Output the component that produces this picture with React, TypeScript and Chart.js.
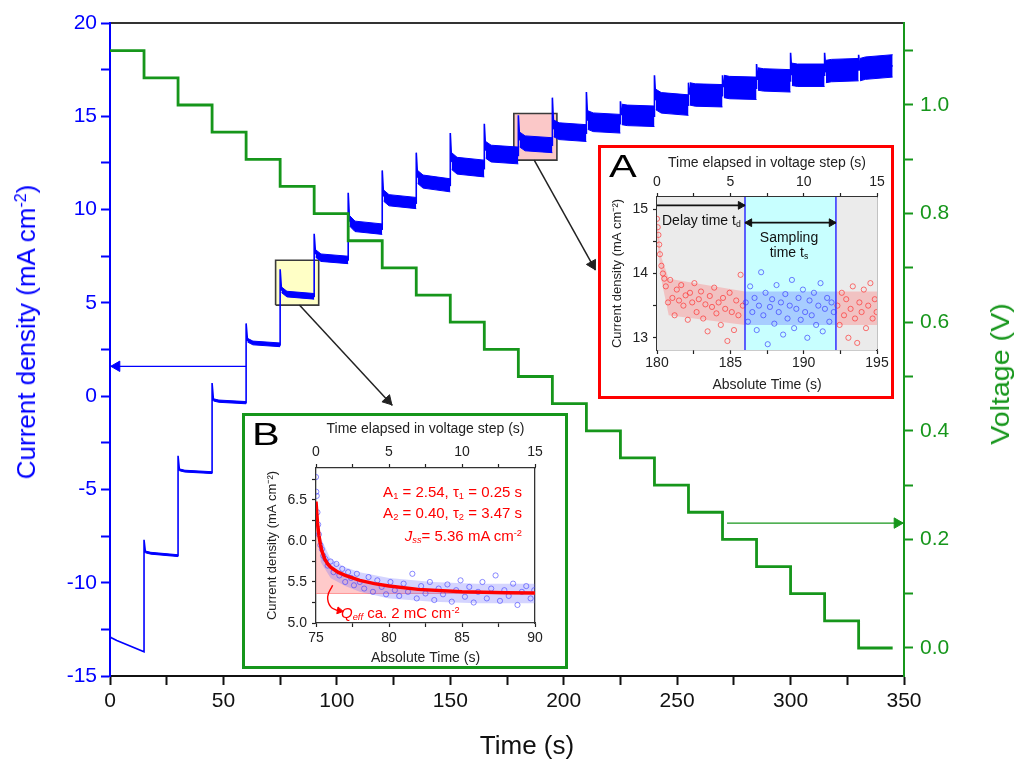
import React, { useEffect, useRef } from "react";
import { Chart, registerables } from "chart.js";

Chart.register(...registerables);

const FONT = "'Liberation Sans', Arial, Helvetica, sans-serif";
const BLUE = "#0000ff";
const GREEN = "#16961b";
const RED = "#ff0000";
const DARK = "#222222";

// ---------------- main chart data ----------------
const timeAxisRange = [0, 350];
const currentAxisRange = [-15, 20];
const voltageAxisRange = [-0.0516, 1.151];
const timeTicks = [0, 25, 50, 75, 100, 125, 150, 175, 200, 225, 250, 275, 300, 325, 350];
const timeLabels = [0, 50, 100, 150, 200, 250, 300, 350];
const currentTicks = [-15, -12.5, -10, -7.5, -5, -2.5, 0, 2.5, 5, 7.5, 10, 12.5, 15, 17.5, 20];
const currentLabels = [-15, -10, -5, 0, 5, 10, 15, 20];
const voltageTicks = [0, 0.1, 0.2, 0.3, 0.4, 0.5, 0.6, 0.7, 0.8, 0.9, 1.0, 1.1];
const voltageLabels = [0, 0.2, 0.4, 0.6, 0.8, 1.0];

const stepTimes = [0, 15, 30, 45, 60, 75, 90, 105, 120, 135, 150, 165, 180, 195, 210, 225, 240, 255, 270, 285, 300, 315, 330];
const runEndTime = 345;
const voltageLevels = [1.1, 1.05, 1.0, 0.95, 0.9, 0.85, 0.8, 0.75, 0.7, 0.65, 0.6, 0.55, 0.5, 0.45, 0.4, 0.35, 0.3, 0.25, 0.2, 0.15, 0.1, 0.05, 0.0];
const currentSpike = [-12.9, -7.7, -3.2, 0.7, 3.9, 6.8, 8.7, 10.9, 12.1, 13.05, 14.1, 14.6, 15.05, 16.0, 16.3, 15.8, 17.2, 16.8, 17.2, 17.8, 18.4, 18.4, 18.3];
const currentSettled = [-12.95, -8.35, -3.95, -0.2, 3.0, 5.7, 7.65, 9.4, 10.75, 11.75, 12.6, 13.2, 13.75, 14.35, 14.8, 15.1, 15.9, 16.2, 16.6, 17.0, 17.25, 17.4, 17.5];
const currentMid = [-13.1, -8.42, -4.02, -0.27, 2.85, 5.47, 7.42, 9.1, 10.5, 11.5, 12.35, 13.0, 13.55, 14.2, 14.68, 15.05, 15.72, 16.14, 16.54, 16.95, 17.2, 17.45, 17.58];
const currentStepEnd = [-13.7, -8.55, -4.1, -0.35, 2.75, 5.35, 7.3, 8.95, 10.35, 11.3, 12.2, 12.9, 13.45, 14.1, 14.6, 15.0, 15.6, 16.1, 16.5, 16.9, 17.2, 17.5, 17.7];
const currentNoise = [0, 0.05, 0.05, 0.06, 0.1, 0.15, 0.2, 0.28, 0.3, 0.35, 0.45, 0.45, 0.4, 0.45, 0.5, 0.55, 0.55, 0.6, 0.6, 0.6, 0.6, 0.6, 0.6];
const settleDelay = 0.6;
const midDelay = 3;

// zoom boxes on the main trace
const boxBTime = [73, 92];
const boxBCurrent = [4.88, 7.28];
const boxATime = [178, 197];
const boxACurrent = [12.65, 15.15];

// annotation arrows (data units)
const blueArrowTime = [60, 0];
const blueArrowHead = 3;
const blueArrowCurrent = 1.6;
const greenArrowTime = [272, 350];
const greenArrowHead = 347;
const greenArrowVoltage = 0.23;
const arrowToBTime = [83.5, 124.5];
const arrowToBCurrent = [4.88, -0.5];
const arrowToATime = [187, 214];
const arrowToACurrent = [12.65, 6.76];

// ---------------- inset A data ----------------
const insetATimeRange = [180, 195];
const insetAElapsedRange = [0, 15];
const insetACurrentRange = [12.81, 15.19];
const insetATimeTicks = [180, 182.5, 185, 187.5, 190, 192.5, 195];
const insetATimeLabels = [180, 185, 190, 195];
const elapsedTicks = [0, 2.5, 5, 7.5, 10, 12.5, 15];
const elapsedLabels = [0, 5, 10, 15];
const insetACurrentTicks = [13, 13.5, 14, 14.5, 15];
const insetACurrentLabels = [13, 14, 15];
const samplingWindow = [186, 192.2];
const delayArrowTime = [180, 186];
const delayArrowCurrent = 15.06;
const samplingArrowCurrent = 14.79;
const insetArrowHeadBack = 0.3;

const delayRedTimes = [180.0, 180.05, 180.1, 180.15, 180.2, 180.3, 180.4, 180.5, 180.6, 180.75, 180.9, 181.05, 181.2, 181.35, 181.5, 181.65, 181.8, 181.95, 182.1, 182.25, 182.4, 182.55, 182.7, 182.85, 183.0, 183.15, 183.3, 183.45, 183.6, 183.75, 183.9, 184.05, 184.2, 184.35, 184.5, 184.65, 184.8, 184.95, 185.1, 185.25, 185.4, 185.55, 185.7, 185.85];
const delayRedValues = [14.85, 14.72, 14.6, 14.45, 14.3, 14.12, 14.0, 13.92, 13.8, 13.55, 13.9, 13.62, 13.35, 13.75, 13.58, 13.82, 13.5, 13.66, 13.28, 13.7, 13.55, 13.85, 13.4, 13.6, 13.72, 13.3, 13.52, 13.1, 13.65, 13.48, 13.78, 13.38, 13.55, 13.2, 13.62, 13.45, 12.95, 13.7, 13.4, 13.12, 13.58, 13.35, 13.98, 13.5];
const samplingBlueTimes = [186.05, 186.2, 186.35, 186.5, 186.65, 186.8, 186.95, 187.1, 187.25, 187.4, 187.55, 187.7, 187.85, 188.0, 188.15, 188.3, 188.45, 188.6, 188.75, 188.9, 189.05, 189.2, 189.35, 189.5, 189.65, 189.8, 189.95, 190.1, 190.25, 190.4, 190.55, 190.7, 190.85, 191.0, 191.15, 191.3, 191.45, 191.6, 191.75, 191.9, 192.05];
const samplingBlueValues = [13.55, 13.25, 13.8, 13.4, 13.62, 13.12, 13.5, 14.02, 13.35, 13.7, 12.9, 13.48, 13.6, 13.22, 13.82, 13.4, 13.55, 13.05, 13.68, 13.3, 13.5, 13.9, 13.15, 13.45, 13.62, 13.28, 13.75, 13.4, 13.0, 13.58, 13.35, 13.7, 13.2, 13.5, 13.85, 13.1, 13.45, 13.62, 13.25, 13.55, 13.4];
const tailRedTimes = [192.3, 192.45, 192.6, 192.75, 192.9, 193.05, 193.2, 193.35, 193.5, 193.65, 193.8, 193.95, 194.1, 194.25, 194.4, 194.55, 194.7, 194.85, 194.97];
const tailRedValues = [13.5, 13.2, 13.7, 13.35, 13.6, 13.0, 13.45, 13.8, 13.3, 12.92, 13.55, 13.4, 13.75, 13.15, 13.5, 13.85, 13.3, 13.6, 13.4];
const delayBandTimes = [180.0, 180.3, 180.8, 186.0];
const delayBandUpper = [14.85, 14.25, 13.92, 13.72];
const delayBandLower = [14.6, 13.9, 13.35, 13.2];
const samplingBandTimes = [186.0, 192.2];
const samplingBandUpper = [13.72, 13.72];
const samplingBandLower = [13.2, 13.2];
const tailBandTimes = [192.2, 195];
const tailBandUpper = [13.72, 13.72];
const tailBandLower = [13.2, 13.2];

// ---------------- inset B data ----------------
const insetBTimeRange = [75, 90];
const insetBCurrentRange = [5.0, 6.89];
const insetBTimeTicks = [75, 77.5, 80, 82.5, 85, 87.5, 90];
const insetBTimeLabels = [75, 80, 85, 90];
const insetBCurrentTicks = [5, 5.25, 5.5, 5.75, 6, 6.25, 6.5, 6.75];
const insetBCurrentLabels = [5, 5.5, 6, 6.5];
const steadyCurrent = 5.36;
const fitTimes = [75.0, 75.1, 75.2, 75.3, 75.4, 75.6, 75.8, 76.0, 76.5, 77, 78, 79, 80, 82, 85, 88, 90];
const fitValues = [6.48, 6.22, 6.07, 5.96, 5.88, 5.78, 5.72, 5.68, 5.62, 5.58, 5.52, 5.48, 5.45, 5.41, 5.38, 5.37, 5.365];
const insetBTimes = [75.0, 75.02, 75.05, 75.1, 75.15, 75.2, 75.3, 75.4, 75.5, 75.65, 75.8, 76.0, 76.2, 76.4, 76.6, 76.8, 77.0, 77.2, 77.4, 77.6, 77.8, 78.0, 78.3, 78.6, 78.9, 79.2, 79.5, 79.8, 80.1, 80.4, 80.7, 81.0, 81.3, 81.6, 81.9, 82.2, 82.5, 82.8, 83.1, 83.4, 83.7, 84.0, 84.3, 84.6, 84.9, 85.2, 85.5, 85.8, 86.1, 86.4, 86.7, 87.0, 87.3, 87.6, 87.9, 88.2, 88.5, 88.8, 89.1, 89.4, 89.7, 89.95];
const insetBValues = [6.78, 6.6, 6.55, 6.35, 6.2, 6.08, 5.95, 5.9, 5.82, 5.78, 5.7, 5.75, 5.62, 5.72, 5.58, 5.66, 5.5, 5.62, 5.55, 5.46, 5.6, 5.5, 5.42, 5.56, 5.38, 5.52, 5.44, 5.35, 5.5, 5.4, 5.33, 5.48, 5.38, 5.6, 5.3, 5.45, 5.36, 5.5, 5.28, 5.42, 5.35, 5.47, 5.26, 5.4, 5.52, 5.32, 5.44, 5.25, 5.38, 5.5, 5.3, 5.42, 5.58, 5.27, 5.4, 5.33, 5.48, 5.22, 5.38, 5.45, 5.3, 5.4];
const insetBBandTimes = [75.3, 76, 77, 78, 80, 83, 86, 90];
const insetBBandUpper = [6.05, 5.78, 5.68, 5.62, 5.55, 5.5, 5.48, 5.48];
const insetBBandLower = [5.75, 5.55, 5.45, 5.38, 5.3, 5.26, 5.24, 5.24];
const qArrowTimes = [76.14, 75.8, 76.0, 76.5];
const qArrowValues = [5.46, 5.32, 5.2, 5.15];
const qArrowHead = [76.6, 5.15];

// ---------------- helpers ----------------
const zip = (xs: number[], ys: number[]) => xs.map((x, i) => ({ x, y: ys[i] }));
const flat = (xs: number[], y: number) => xs.map((x) => ({ x, y }));
const near = (list: number[], v: number) => list.some((l) => Math.abs(l - v) < 1e-6);
const fixedTicks = (values: number[]) => (scale: any) => {
  scale.ticks = values.map((value) => ({ value }));
};
const labeller = (labels: number[], digits: number) => (value: any) =>
  near(labels, Number(value)) ? Number(value).toFixed(digits) : "";
const rect = (xs: number[], ys: number[]) => [
  { x: xs[0], y: ys[0] },
  { x: xs[1], y: ys[0] },
  { x: xs[1], y: ys[1] },
  { x: xs[0], y: ys[1] },
  { x: xs[0], y: ys[0] },
];
const lerpPoint = (xs: number[], ys: number[], f: number) => ({
  x: xs[0] + (xs[1] - xs[0]) * f,
  y: ys[0] + (ys[1] - ys[0]) * f,
});
const L = (data: any[], extra: any = {}) => ({
  data,
  pointRadius: 0,
  borderWidth: 1.5,
  fill: false,
  tension: 0,
  ...extra,
});
const head = (data: any[], color: string, rotation: number, radius: number, extra: any = {}) => ({
  data,
  showLine: false,
  pointStyle: "triangle",
  pointRadius: radius,
  pointRotation: rotation,
  pointBackgroundColor: color,
  pointBorderColor: color,
  pointBorderWidth: 1,
  clip: false,
  order: 0,
  ...extra,
});
const scatter = (data: any[], color: string, extra: any = {}) => ({
  data,
  showLine: false,
  pointStyle: "circle",
  pointRadius: 2.6,
  pointBorderWidth: 0.8,
  pointBackgroundColor: "rgba(0,0,0,0)",
  pointBorderColor: color,
  order: 10,
  ...extra,
});

// ---------------- main chart ----------------
function MainChart() {
  const ref = useRef<HTMLCanvasElement>(null);
  useEffect(() => {
    const datasets: any[] = [];

    // voltage staircase
    const vPts = stepTimes.map((t, i) => ({ x: t, y: voltageLevels[i] }));
    vPts.push({ x: runEndTime, y: voltageLevels[voltageLevels.length - 1] });
    datasets.push(L(vPts, { yAxisID: "y2", borderColor: GREEN, borderWidth: 2.8, stepped: "before", order: 1 }));

    // current trace
    const trace: any[] = [];
    stepTimes.forEach((t0, i) => {
      const tEnd = i < stepTimes.length - 1 ? stepTimes[i + 1] : runEndTime;
      trace.push(
        { x: t0, y: currentSpike[i] },
        { x: t0 + settleDelay, y: currentSettled[i] },
        { x: t0 + midDelay, y: currentMid[i] },
        { x: tEnd, y: currentStepEnd[i] }
      );
    });
    datasets.push(L(trace, { yAxisID: "y", borderColor: BLUE, borderWidth: 1.6, order: 2 }));

    // noise envelope per step
    stepTimes.forEach((t0, i) => {
      if (currentNoise[i] <= 0) return;
      const tEnd = i < stepTimes.length - 1 ? stepTimes[i + 1] : runEndTime;
      const xs = [t0 + settleDelay, t0 + midDelay, tEnd];
      const c = [currentSettled[i], currentMid[i], currentStepEnd[i]];
      datasets.push(
        L(zip(xs, c.map((v) => v + currentNoise[i])), {
          yAxisID: "y", fill: "+1", backgroundColor: BLUE, borderColor: BLUE, borderWidth: 1, order: 3,
        })
      );
      datasets.push(
        L(zip(xs, c.map((v) => v - currentNoise[i])), { yAxisID: "y", borderColor: BLUE, borderWidth: 1, order: 3 })
      );
    });

    // zoom boxes
    datasets.push(L(flat(boxBTime, boxBCurrent[1]), { yAxisID: "y", fill: "+1", backgroundColor: "#ffffc6", borderWidth: 0, order: 6 }));
    datasets.push(L(flat(boxBTime, boxBCurrent[0]), { yAxisID: "y", borderWidth: 0, order: 6 }));
    datasets.push(L(rect(boxBTime, boxBCurrent), { yAxisID: "y", borderColor: "#3a3a3a", borderWidth: 1.6, order: 5 }));
    datasets.push(L(flat(boxATime, boxACurrent[1]), { yAxisID: "y", fill: "+1", backgroundColor: "#fbc8c8", borderWidth: 0, order: 6 }));
    datasets.push(L(flat(boxATime, boxACurrent[0]), { yAxisID: "y", borderWidth: 0, order: 6 }));
    datasets.push(L(rect(boxATime, boxACurrent), { yAxisID: "y", borderColor: "#3a3a3a", borderWidth: 1.6, order: 5 }));

    // arrows
    datasets.push(L(flat(blueArrowTime, blueArrowCurrent), { yAxisID: "y", borderColor: BLUE, borderWidth: 1.3, order: 0, clip: false }));
    datasets.push(head([{ x: blueArrowHead, y: blueArrowCurrent }], BLUE, 270, 6, { yAxisID: "y" }));
    datasets.push(L(flat(greenArrowTime, greenArrowVoltage), { yAxisID: "y2", borderColor: GREEN, borderWidth: 1.3, order: 0, clip: false }));
    datasets.push(head([{ x: greenArrowHead, y: greenArrowVoltage }], GREEN, 90, 6, { yAxisID: "y2" }));
    datasets.push(L(zip(arrowToBTime, arrowToBCurrent), { yAxisID: "y", borderColor: DARK, borderWidth: 1.5, order: 0 }));
    datasets.push(head([lerpPoint(arrowToBTime, arrowToBCurrent, 0.95)], DARK, 137, 6, { yAxisID: "y" }));
    datasets.push(L(zip(arrowToATime, arrowToACurrent), { yAxisID: "y", borderColor: DARK, borderWidth: 1.5, order: 0 }));
    datasets.push(head([lerpPoint(arrowToATime, arrowToACurrent, 0.95)], DARK, 151, 6, { yAxisID: "y" }));

    const tickFont = { family: FONT, size: 21 };
    const chart = new Chart(ref.current as HTMLCanvasElement, {
      type: "line",
      data: { datasets },
      options: {
        animation: false,
        responsive: false,
        events: [],
        layout: { padding: 0 },
        plugins: { legend: { display: false }, tooltip: { enabled: false }, title: { display: false } },
        scales: {
          x: {
            type: "linear", axis: "x", position: "bottom", min: timeAxisRange[0], max: timeAxisRange[1],
            afterBuildTicks: fixedTicks(timeTicks),
            afterFit: (s: any) => { s.height = 99; },
            ticks: { callback: labeller(timeLabels, 0), color: "#111", font: tickFont, padding: 4, maxRotation: 0, autoSkip: false },
            grid: { drawOnChartArea: false, drawTicks: true, tickLength: 9, tickWidth: 2, tickColor: "#111" },
            border: { display: true, color: "#111", width: 2 },
          },
          xTop: {
            type: "linear", axis: "x", position: "top", min: timeAxisRange[0], max: timeAxisRange[1],
            afterFit: (s: any) => { s.height = 23; },
            ticks: { display: false },
            grid: { display: false },
            border: { display: true, color: "#333", width: 2 },
          },
          y: {
            type: "linear", axis: "y", position: "left", min: currentAxisRange[0], max: currentAxisRange[1],
            afterBuildTicks: fixedTicks(currentTicks),
            afterFit: (s: any) => { s.width = 110; },
            ticks: { callback: labeller(currentLabels, 0), color: BLUE, font: tickFont, padding: 4, autoSkip: false },
            grid: { drawOnChartArea: false, drawTicks: true, tickLength: 9, tickWidth: 2, tickColor: BLUE },
            border: { display: true, color: BLUE, width: 2 },
          },
          y2: {
            type: "linear", axis: "y", position: "right", min: voltageAxisRange[0], max: voltageAxisRange[1],
            afterBuildTicks: fixedTicks(voltageTicks),
            afterFit: (s: any) => { s.width = 120; },
            ticks: { callback: labeller(voltageLabels, 1), color: GREEN, font: tickFont, padding: 7, autoSkip: false },
            grid: { drawOnChartArea: false, drawTicks: true, tickLength: 9, tickWidth: 2, tickColor: GREEN },
            border: { display: true, color: GREEN, width: 2 },
          },
        },
      } as any,
    });
    return () => chart.destroy();
  }, []);
  return (
    <canvas
      ref={ref}
      width={1024}
      height={775}
      style={{ position: "absolute", left: 0, top: 0, width: 1024, height: 775 }}
    />
  );
}

// ---------------- inset scales ----------------
function insetScales(p: any) {
  const tickFont = { family: FONT, size: 14 };
  const titleFont = { family: FONT, size: 14 };
  return {
    x: {
      type: "linear", axis: "x", position: "bottom", min: p.x[0], max: p.x[1],
      afterBuildTicks: fixedTicks(p.xTicks),
      afterFit: (s: any) => { s.height = p.bottomH; },
      ticks: { callback: labeller(p.xLabels, 0), color: DARK, font: tickFont, padding: p.bottomTickPad, maxRotation: 0, autoSkip: false },
      grid: { drawOnChartArea: false, drawTicks: true, tickLength: 4, tickWidth: 1.2, tickColor: DARK },
      border: { display: true, color: "#333", width: 1.3 },
      title: { display: true, text: "Absolute Time (s)", color: DARK, font: titleFont, padding: { top: 0, bottom: p.bottomTitlePad } },
    },
    xTop: {
      type: "linear", axis: "x", position: "top", min: insetAElapsedRange[0], max: insetAElapsedRange[1],
      afterBuildTicks: fixedTicks(elapsedTicks),
      afterFit: (s: any) => { s.height = p.topH; },
      ticks: { callback: labeller(elapsedLabels, 0), color: DARK, font: tickFont, padding: p.topTickPad, maxRotation: 0, autoSkip: false },
      grid: { drawOnChartArea: false, drawTicks: true, tickLength: 4, tickWidth: 1.2, tickColor: DARK },
      border: { display: true, color: "#333", width: 1.3 },
      title: { display: true, text: "Time elapsed in voltage step (s)", color: DARK, font: titleFont, padding: { top: p.topTitlePad, bottom: 0 } },
    },
    y: {
      type: "linear", axis: "y", position: "left", min: p.y[0], max: p.y[1],
      afterBuildTicks: fixedTicks(p.yTicks),
      afterFit: (s: any) => { s.width = p.left; },
      ticks: { callback: labeller(p.yLabels, p.yDigits), color: DARK, font: tickFont, padding: 5, autoSkip: false },
      grid: { drawOnChartArea: false, drawTicks: true, tickLength: 4, tickWidth: 1.2, tickColor: DARK },
      border: { display: true, color: "#333", width: 1.3 },
      title: { display: true, text: "Current density (mA cm\u207B\u00B2)", color: DARK, font: { family: FONT, size: 13 }, padding: { top: p.leftTitlePad, bottom: 0 } },
    },
    yR: {
      type: "linear", axis: "y", position: "right", min: p.y[0], max: p.y[1],
      afterFit: (s: any) => { s.width = p.right; },
      ticks: { display: false },
      grid: { display: false },
      border: { display: true, color: "#333", width: 1.3 },
    },
  };
}

const insetOptions = (scales: any) =>
  ({
    animation: false,
    responsive: false,
    events: [],
    layout: { padding: 0 },
    plugins: { legend: { display: false }, tooltip: { enabled: false }, title: { display: false } },
    scales,
  } as any);

function InsetA() {
  const ref = useRef<HTMLCanvasElement>(null);
  useEffect(() => {
    const top = insetACurrentRange[1];
    const bottom = insetACurrentRange[0];
    const datasets: any[] = [
      L(flat(insetATimeRange, top), { fill: "start", backgroundColor: "#ebebeb", borderWidth: 0, order: 30 }),
      L(flat(samplingWindow, top), { fill: "start", backgroundColor: "#c8ffff", borderWidth: 0, order: 29 }),
      L(zip(delayBandTimes, delayBandUpper), { fill: "+1", backgroundColor: "rgba(255,100,100,0.3)", borderWidth: 0, order: 20 }),
      L(zip(delayBandTimes, delayBandLower), { borderWidth: 0, order: 20 }),
      L(zip(samplingBandTimes, samplingBandUpper), { fill: "+1", backgroundColor: "rgba(100,100,255,0.32)", borderWidth: 0, order: 20 }),
      L(zip(samplingBandTimes, samplingBandLower), { borderWidth: 0, order: 20 }),
      L(zip(tailBandTimes, tailBandUpper), { fill: "+1", backgroundColor: "rgba(255,100,100,0.3)", borderWidth: 0, order: 20 }),
      L(zip(tailBandTimes, tailBandLower), { borderWidth: 0, order: 20 }),
      scatter(zip(delayRedTimes, delayRedValues), "rgba(255,40,40,0.8)"),
      scatter(zip(samplingBlueTimes, samplingBlueValues), "rgba(50,50,255,0.8)"),
      scatter(zip(tailRedTimes, tailRedValues), "rgba(255,40,40,0.8)"),
      L([{ x: samplingWindow[0], y: bottom }, { x: samplingWindow[0], y: top }], { borderColor: "#3a3aff", borderWidth: 1.6, order: 5 }),
      L([{ x: samplingWindow[1], y: bottom }, { x: samplingWindow[1], y: top }], { borderColor: "#3a3aff", borderWidth: 1.6, order: 5 }),
      L(flat(delayArrowTime, delayArrowCurrent), { borderColor: "#111", borderWidth: 1.8, order: 1 }),
      head([{ x: delayArrowTime[1] - insetArrowHeadBack, y: delayArrowCurrent }], "#111", 90, 4.5),
      L(flat(samplingWindow, samplingArrowCurrent), { borderColor: "#111", borderWidth: 1.8, order: 1 }),
      head([{ x: samplingWindow[0] + insetArrowHeadBack, y: samplingArrowCurrent }], "#111", 270, 4.5),
      head([{ x: samplingWindow[1] - insetArrowHeadBack, y: samplingArrowCurrent }], "#111", 90, 4.5),
    ];
    const scales = insetScales({
      x: insetATimeRange, xTicks: insetATimeTicks, xLabels: insetATimeLabels,
      y: insetACurrentRange, yTicks: insetACurrentTicks, yLabels: insetACurrentLabels, yDigits: 0,
      left: 59, right: 17, topH: 52, bottomH: 49,
      leftTitlePad: 12, topTitlePad: 9.6, topTickPad: 2.6, bottomTickPad: 1, bottomTitlePad: 5.6,
    });
    const chart = new Chart(ref.current as HTMLCanvasElement, { type: "line", data: { datasets }, options: insetOptions(scales) });
    return () => chart.destroy();
  }, []);
  return <canvas ref={ref} width={296} height={254} style={{ position: "absolute", left: -3, top: -3, width: 296, height: 254 }} />;
}

function InsetB() {
  const ref = useRef<HTMLCanvasElement>(null);
  useEffect(() => {
    const datasets: any[] = [
      L(zip(fitTimes, fitValues), { fill: { value: steadyCurrent }, backgroundColor: "rgba(255,150,150,0.5)", borderWidth: 0, order: 30 }),
      L(flat(insetBTimeRange, steadyCurrent), { borderColor: "rgba(255,120,120,0.7)", borderWidth: 1, order: 29 }),
      L(zip(insetBBandTimes, insetBBandUpper), { fill: "+1", backgroundColor: "rgba(100,100,255,0.28)", borderWidth: 0, order: 20 }),
      L(zip(insetBBandTimes, insetBBandLower), { borderWidth: 0, order: 20 }),
      scatter(zip(insetBTimes, insetBValues), "rgba(60,60,255,0.75)"),
      L(zip(fitTimes, fitValues), { borderColor: RED, borderWidth: 3.5, order: 2 }),
      L(zip(qArrowTimes, qArrowValues), { borderColor: RED, borderWidth: 1.4, tension: 0.45, order: 1 }),
      head([{ x: qArrowHead[0], y: qArrowHead[1] }], RED, 100, 4),
    ];
    const scales = insetScales({
      x: insetBTimeRange, xTicks: insetBTimeTicks, xLabels: insetBTimeLabels,
      y: insetBCurrentRange, yTicks: insetBCurrentTicks, yLabels: insetBCurrentLabels, yDigits: 1,
      left: 74, right: 33, topH: 55, bottomH: 46,
      leftTitlePad: 23, topTitlePad: 7.6, topTickPad: 3.6, bottomTickPad: 2.6, bottomTitlePad: 2.6,
    });
    const chart = new Chart(ref.current as HTMLCanvasElement, { type: "line", data: { datasets }, options: insetOptions(scales) });
    return () => chart.destroy();
  }, []);
  return <canvas ref={ref} width={326} height={256} style={{ position: "absolute", left: -3, top: -3, width: 326, height: 256 }} />;
}

// ---------------- text helpers ----------------
const Sub = ({ children }: any) => (
  <span style={{ fontSize: "0.62em", verticalAlign: "-0.25em", lineHeight: 0 }}>{children}</span>
);
const Sup = ({ children }: any) => (
  <span style={{ fontSize: "0.62em", verticalAlign: "0.55em", lineHeight: 0 }}>{children}</span>
);
const abs = (extra: any): any => ({ position: "absolute", whiteSpace: "nowrap", lineHeight: 1, fontFamily: FONT, ...extra });

export default function App() {
  return (
    <div style={{ position: "relative", width: 1024, height: 775, background: "#fff", overflow: "hidden", fontFamily: FONT }}>
      <style>{`html,body{margin:0;padding:0;background:#fff;}`}</style>
      <MainChart />

      {/* axis titles */}
      <div style={abs({ left: 26, top: 332, transform: "translate(-50%,-50%) rotate(-90deg)", color: BLUE, fontSize: 26 })}>
        Current density (mA cm<Sup>-2</Sup>)
      </div>
      <div style={abs({ left: 1000, top: 374, transform: "translate(-50%,-50%) rotate(-90deg) scaleX(1.1)", color: GREEN, fontSize: 26 })}>
        Voltage (V)
      </div>
      <div style={abs({ left: 527, top: 745, transform: "translate(-50%,-50%)", color: "#111", fontSize: 26 })}>Time (s)</div>

      {/* inset A */}
      <div style={{ position: "absolute", left: 598, top: 145, width: 296, height: 254, border: `3px solid ${RED}`, boxSizing: "border-box", background: "#fff" }}>
        <InsetA />
      </div>
      <div style={abs({ left: 609, top: 150, fontSize: 32, color: "#000", transform: "scaleX(1.3)", transformOrigin: "left top" })}>A</div>
      <div style={abs({ left: 662, top: 213, fontSize: 14, color: "#111" })}>
        Delay time t<Sub>d</Sub>
      </div>
      <div style={abs({ left: 789, top: 230, fontSize: 14, color: "#111", transform: "translateX(-50%)" })}>Sampling</div>
      <div style={abs({ left: 789, top: 245, fontSize: 14, color: "#111", transform: "translateX(-50%)" })}>
        time t<Sub>s</Sub>
      </div>

      {/* inset B */}
      <div style={{ position: "absolute", left: 242, top: 413, width: 326, height: 256, border: `3px solid ${GREEN}`, boxSizing: "border-box", background: "#fff" }}>
        <InsetB />
      </div>
      <div style={abs({ left: 252, top: 418, fontSize: 32, color: "#000", transform: "scaleX(1.3)", transformOrigin: "left top" })}>B</div>
      <div style={abs({ right: 502, top: 484, fontSize: 15, color: RED, textAlign: "right" })}>
        A<Sub>1</Sub> = 2.54, τ<Sub>1</Sub> = 0.25 s
      </div>
      <div style={abs({ right: 502, top: 505, fontSize: 15, color: RED, textAlign: "right" })}>
        A<Sub>2</Sub> = 0.40, τ<Sub>2</Sub> = 3.47 s
      </div>
      <div style={abs({ right: 502, top: 528, fontSize: 15, color: RED, textAlign: "right" })}>
        <i>J</i><Sub><i>ss</i></Sub>= 5.36 mA cm<Sup>-2</Sup>
      </div>
      <div style={abs({ left: 341, top: 605, fontSize: 15, color: RED })}>
        <i>Q</i><Sub><i>eff</i></Sub> ca. 2 mC cm<Sup>-2</Sup>
      </div>
    </div>
  );
}
